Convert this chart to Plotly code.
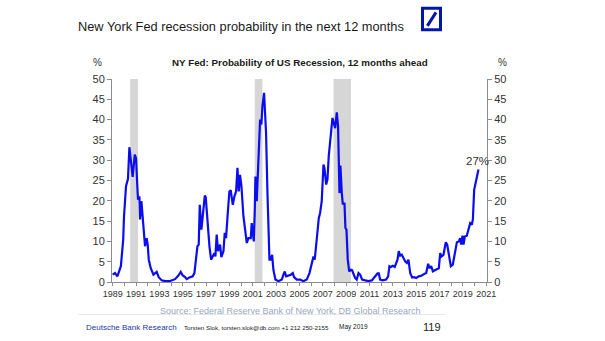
import plotly.graph_objects as go

# ---- data (decimal year, probability %) ----
years = [1989.0, 1989.2, 1989.4, 1989.7, 1989.9, 1989.97, 1990.14, 1990.23, 1990.31, 1990.43,
         1990.57, 1990.71, 1990.89, 1991.0, 1991.11, 1991.17, 1991.29, 1991.34, 1991.46, 1991.57,
         1991.69, 1991.77, 1991.91, 1992.0, 1992.09, 1992.26, 1992.49, 1992.66, 1992.77, 1992.94,
         1993.2, 1993.49, 1993.91, 1994.34, 1994.63, 1994.83, 1995.0, 1995.2, 1995.34, 1995.57,
         1995.86, 1996.0, 1996.14, 1996.26, 1996.37, 1996.46, 1996.6, 1996.77, 1996.89, 1996.97,
         1997.11, 1997.29, 1997.43, 1997.57, 1997.71, 1997.8, 1997.91, 1998.03, 1998.2, 1998.31,
         1998.49, 1998.6, 1998.71, 1998.89, 1999.0, 1999.11, 1999.29, 1999.43, 1999.57, 1999.69,
         1999.8, 1999.91, 2000.03, 2000.2, 2000.37, 2000.49, 2000.63, 2000.83, 2000.91, 2001.0,
         2001.09, 2001.17, 2001.23, 2001.34, 2001.49, 2001.63, 2001.74, 2001.83, 2001.97, 2002.14,
         2002.26, 2002.37, 2002.43, 2002.54, 2002.66, 2002.77, 2002.94, 2003.2, 2003.49, 2003.63,
         2003.74, 2003.86, 2004.06, 2004.26, 2004.43, 2004.54, 2004.77, 2005.06, 2005.34, 2005.63,
         2005.86, 2006.06, 2006.2, 2006.31, 2006.43, 2006.54, 2006.66, 2006.77, 2006.91, 2007.06,
         2007.14, 2007.29, 2007.4, 2007.51, 2007.63, 2007.71, 2007.83, 2007.94, 2008.06, 2008.2,
         2008.31, 2008.43, 2008.51, 2008.63, 2008.71, 2008.86, 2008.94, 2009.03, 2009.14, 2009.26,
         2009.4, 2009.51, 2009.63, 2009.77, 2009.91, 2010.06, 2010.2, 2010.37, 2010.63, 2010.91,
         2011.2, 2011.49, 2011.69, 2011.8, 2011.91, 2012.14, 2012.43, 2012.6, 2012.71, 2012.83,
         2013.0, 2013.17, 2013.29, 2013.4, 2013.51, 2013.63, 2013.77, 2013.91, 2014.06, 2014.2,
         2014.34, 2014.49, 2014.66, 2014.83, 2015.0, 2015.23, 2015.49, 2015.69, 2015.86, 2016.03,
         2016.14, 2016.29, 2016.43, 2016.6, 2016.77, 2016.94, 2017.06, 2017.17, 2017.34, 2017.54,
         2017.66, 2017.8, 2017.97, 2018.14, 2018.31, 2018.49, 2018.66, 2018.77, 2018.86, 2018.97,
         2019.06, 2019.17, 2019.34, 2019.49, 2019.63, 2019.77, 2019.86, 2019.97, 2020.09, 2020.17,
         2020.34]
probability = [1.8, 2.2, 1.4, 3.9, 10.4, 16.2, 23.6, 25.0, 25.4, 33.2,
               29.3, 25.9, 31.4, 30.5, 23.6, 20.3, 21.1, 15.4, 19.9, 15.4,
               11.7, 8.8, 10.8, 9.2, 5.5, 3.4, 1.8, 2.2, 2.5, 1.2,
               0.4, 0.2, 0.25, 0.7, 1.6, 2.5, 1.6, 1.2, 0.7, 1.1,
               1.4, 2.2, 5.1, 8.8, 9.2, 19.0, 12.9, 17.0, 21.3, 20.9,
               15.4, 8.8, 5.5, 6.2, 7.1, 6.3, 11.7, 7.6, 9.2, 6.1,
               7.6, 12.1, 10.8, 18.2, 22.3, 22.6, 19.0, 21.1, 22.3, 28.1,
               22.3, 26.4, 23.6, 16.2, 12.1, 9.6, 10.8, 10.8, 14.5, 12.1,
               10.0, 17.4, 26.0, 19.9, 28.5, 40.0, 38.8, 43.3, 46.6, 36.7,
               21.9, 8.0, 5.5, 5.5, 6.7, 3.0, 0.6, 0.2, 0.6, 1.8,
               2.6, 1.4, 1.6, 1.8, 2.2, 1.2, 0.6, 0.6, 0.2, 0.6,
               2.2, 4.3, 6.3, 5.5, 8.8, 12.9, 15.8, 17.0, 19.9, 28.9,
               28.1, 24.0, 25.2, 31.0, 34.6, 35.1, 40.4, 39.2, 37.9, 41.8,
               38.3, 21.9, 28.7, 21.9, 19.3, 19.3, 13.3, 12.9, 5.5, 2.6,
               3.0, 2.9, 2.2, 1.0, 0.6, 2.2, 1.8, 0.6, 0.4, 0.25,
               0.4, 1.4, 2.1, 2.1, 0.6, 0.4, 0.6, 1.4, 3.9, 3.7,
               4.0, 3.7, 4.5, 5.5, 7.6, 6.5, 6.7, 5.9, 5.1, 4.7,
               5.5, 2.2, 1.1, 1.2, 1.0, 1.4, 1.6, 2.0, 2.2, 4.5,
               3.4, 3.9, 2.6, 2.9, 3.2, 3.4, 7.1, 6.3, 6.7, 9.8,
               9.2, 6.3, 3.9, 4.3, 7.1, 9.8, 10.0, 10.8, 9.2, 11.4,
               9.2, 11.2, 11.4, 12.9, 14.5, 14.1, 15.4, 22.7, 24.4, 26.0,
               27.7]

recession_start = [1990.5, 2001.17, 2007.92]
recession_end = [1991.17, 2001.83, 2009.42]

last_label = "27%"
tick_years = list(range(1989, 2022, 2))
y_ticks = list(range(0, 51, 5))

FONT = "Arial, Liberation Sans, sans-serif"
GREY = "#8c8c8c"
TXT = "#333333"

fig = go.Figure()
fig.add_trace(go.Scatter(x=years, y=probability, mode="lines",
                         line=dict(color="#0c0cf0", width=2.2), showlegend=False,
                         hoverinfo="skip"))
# invisible copy so the right-hand axis is drawn
fig.add_trace(go.Scatter(x=years, y=probability, mode="lines", yaxis="y2",
                         line=dict(color="rgba(0,0,0,0)", width=0), showlegend=False,
                         hoverinfo="skip"))

shapes = []
for s, e in zip(recession_start, recession_end):
    shapes.append(dict(type="rect", xref="x", yref="y", x0=s, x1=e, y0=0, y1=50,
                       fillcolor="#d6d6d6", line=dict(width=0), layer="below"))

# Deutsche Bank logo
shapes.append(dict(type="rect", xref="paper", yref="paper",
                   x0=0.828, x1=0.876, y0=1.242, y1=1.348,
                   fillcolor="white", line=dict(color="#0018a8", width=3)))
shapes.append(dict(type="line", xref="paper", yref="paper",
                   x0=0.841, x1=0.864, y0=1.262, y1=1.328,
                   line=dict(color="#0018a8", width=3)))
# faint separator line under source
shapes.append(dict(type="line", xref="paper", yref="paper",
                   x0=-0.09, x1=0.89, y0=-0.16, y1=-0.16,
                   line=dict(color="#e6e6e6", width=1)))
fig.update_layout(shapes=shapes)

ann = []
ann.append(dict(x=years[-1], y=probability[-1], xref="x", yref="y", text=last_label,
                showarrow=False, yshift=9, xshift=-1, font=dict(family=FONT, size=11.5, color=TXT)))
ann.append(dict(x=0.344, y=1.26, xref="paper", yref="paper", xanchor="center", yanchor="middle",
                text="New York Fed recession probability in the next 12 months",
                showarrow=False, font=dict(family=FONT, size=12.8, color="#1a1a1a")))
ann.append(dict(x=0.502, y=1.08, xref="paper", yref="paper", xanchor="center", yanchor="middle",
                text="<b>NY Fed: Probability of US Recession, 12 months ahead</b>",
                showarrow=False, font=dict(family=FONT, size=9.8, color="#1a1a1a")))
ann.append(dict(x=-0.04, y=1.08, xref="paper", yref="paper", xanchor="center", yanchor="middle",
                text="%", showarrow=False, font=dict(family=FONT, size=10, color=TXT)))
ann.append(dict(x=1.04, y=1.08, xref="paper", yref="paper", xanchor="center", yanchor="middle",
                text="%", showarrow=False, font=dict(family=FONT, size=10, color=TXT)))
ann.append(dict(x=0.475, y=-0.142, xref="paper", yref="paper", xanchor="center", yanchor="middle",
                text="Source: Federal Reserve Bank of New York, DB Global Research",
                showarrow=False, font=dict(family=FONT, size=9, color="#9aa6bd")))
ann.append(dict(x=-0.075, y=-0.222, xref="paper", yref="paper", xanchor="left", yanchor="middle",
                text="Deutsche Bank Research", showarrow=False,
                font=dict(family=FONT, size=8, color="#2038a8")))
ann.append(dict(x=0.187, y=-0.222, xref="paper", yref="paper", xanchor="left", yanchor="middle",
                text="Torsten Slok, torsten.slok@db.com +1 212 250-2155", showarrow=False,
                font=dict(family=FONT, size=6.2, color="#222222")))
ann.append(dict(x=0.6, y=-0.222, xref="paper", yref="paper", xanchor="left", yanchor="middle",
                text="May 2019", showarrow=False, font=dict(family=FONT, size=6.5, color="#222222")))
ann.append(dict(x=0.883, y=-0.222, xref="paper", yref="paper", xanchor="right", yanchor="middle",
                text="119", showarrow=False, font=dict(family=FONT, size=11, color="#222222")))
fig.update_layout(annotations=ann)

axis_y = dict(range=[0, 50], tickvals=y_ticks, ticks="outside", ticklen=4, tickcolor=GREY,
              showline=True, linecolor=GREY, linewidth=1, showgrid=False, zeroline=False,
              tickfont=dict(family=FONT, size=11, color=TXT), fixedrange=True)

fig.update_layout(
    width=605, height=341,
    margin=dict(l=112, r=118, t=79, b=59),
    paper_bgcolor="white", plot_bgcolor="white",
    xaxis=dict(range=[1988.94, 2021.07], tickvals=tick_years, ticktext=[str(y) for y in tick_years],
               tickangle=0, ticks="outside", ticklen=3, tickcolor=GREY, showline=True,
               linecolor=GREY, linewidth=1, showgrid=False, zeroline=False,
               minor=dict(dtick=1, tick0=1989, ticks="outside", ticklen=3, tickcolor=GREY),
               tickfont=dict(family=FONT, size=9, color=TXT)),
    yaxis=dict(side="left", **axis_y),
    yaxis2=dict(side="right", overlaying="y", **axis_y),
)

fig.write_html("out.html")
